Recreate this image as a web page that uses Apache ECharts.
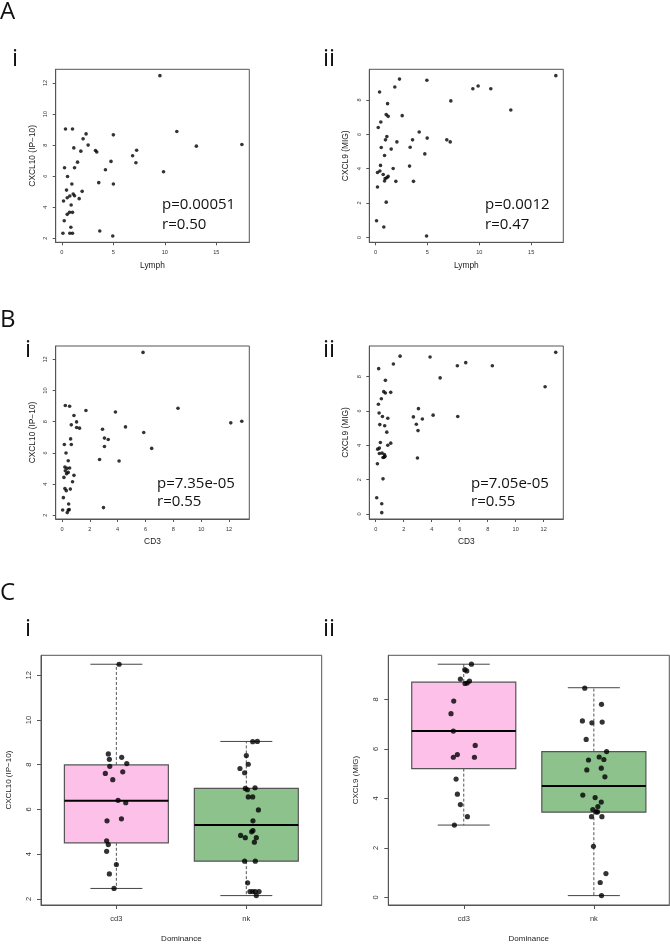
<!DOCTYPE html>
<html><head><meta charset="utf-8">
<script src="https://cdn.jsdelivr.net/npm/echarts@6/dist/echarts.min.js"></script>
<style>html,body{margin:0;padding:0;background:#fff}#c{width:670px;height:944px}</style>
</head><body><div id="c"></div>
<script>
// ---------- DATA ----------
// Panel A i : Lymph vs CXCL10 (IP-10)
const aLymph = [9.52,0.35,1.03,2.35,5.0,2.06,11.16,2.55,1.16,13.06,17.48,1.84,3.26,3.39,7.26,6.87,7.19,1.52,4.77,0.26,1.23,4.23,9.87,0.55,3.58,0.97,5.0,1.97,0.45,0.16,0.52,0.77,1.10,1.23,1.68,0.90,0.52,0.74,1.03,0.23,0.87,0.10,0.77,1.03,3.68,4.94];
const aCXCL10 = [12.47,9.04,9.04,8.72,8.66,8.40,8.87,8.0,7.82,7.93,8.04,7.61,7.65,7.55,7.67,7.31,6.86,6.90,6.95,6.54,6.54,6.41,6.28,5.98,5.58,5.49,5.49,5.02,5.10,4.40,4.61,4.72,4.85,4.74,4.55,4.14,3.54,3.67,3.67,3.13,2.71,2.32,2.32,2.32,2.47,2.15];
// Panel A ii : Lymph vs CXCL9 (MIG)
const aiiLymph = [17.38,2.31,4.95,1.86,0.39,9.38,9.89,11.11,7.26,1.16,13.04,1.03,1.22,2.57,0.51,0.26,4.21,1.09,0.96,3.57,4.98,6.87,7.20,2.06,0.55,1.51,3.34,0.87,4.75,0.48,3.28,1.70,0.19,0.42,0.74,0.93,0.87,1.09,1.22,1.96,3.66,0.19,1.03,0.10,0.80,4.92];
const aiiCXCL9 = [9.42,9.22,9.15,8.76,8.47,8.66,8.82,8.66,7.95,7.79,7.42,7.15,7.05,7.09,6.72,6.40,6.14,5.87,5.68,5.68,5.78,5.68,5.56,5.56,5.23,5.14,5.25,4.77,4.86,4.19,4.15,4.01,3.78,3.86,3.66,3.43,3.28,3.47,3.55,3.26,3.26,2.93,2.05,0.97,0.60,0.08];
// Panel B i : CD3 vs CXCL10 (IP-10)
const bCD3 = [5.82,0.24,0.55,1.72,3.84,8.33,0.86,1.05,0.67,1.05,1.26,2.91,4.56,5.87,12.12,12.91,0.62,3.05,3.32,0.17,0.67,3.05,6.44,0.29,0.45,2.70,4.10,0.21,0.36,0.55,0.24,0.45,0.33,0.86,0.14,0.76,0.21,0.31,0.60,0.10,0.48,0.05,0.45,0.52,0.38,2.98];
const bCXCL10 = [12.45,9.04,8.99,8.72,8.63,8.87,8.40,7.99,7.80,7.63,7.59,7.52,7.67,7.31,7.93,8.03,6.90,6.95,6.86,6.54,6.54,6.41,6.29,5.99,5.50,5.58,5.48,5.09,5.01,5.03,4.86,4.75,4.67,4.56,4.43,4.15,3.71,3.58,3.68,3.13,2.72,2.34,2.34,2.36,2.17,2.49];
// Panel B ii : CD3 vs CXCL9 (MIG)
const biiCD3 = [12.86,1.74,3.88,1.26,0.21,5.83,6.43,8.33,4.60,0.69,12.10,0.57,0.69,1.07,0.40,0.19,3.05,0.24,0.48,2.69,4.10,5.86,3.33,0.86,0.29,0.64,2.90,0.79,3.02,0.33,1.07,0.86,0.14,0.26,0.45,0.62,0.52,0.26,0.67,0.60,2.98,0.12,0.52,0.07,0.43,0.43];
const biiCXCL9 = [9.42,9.20,9.15,8.74,8.47,8.64,8.82,8.64,7.93,7.79,7.42,7.13,7.05,7.09,6.72,6.40,6.14,5.89,5.68,5.66,5.76,5.68,5.54,5.58,5.21,5.14,5.23,4.77,4.86,4.17,4.13,4.01,3.78,3.84,3.55,3.47,3.29,3.53,3.37,3.31,3.26,2.93,2.05,0.95,0.60,0.08];

// Panel C : Dominance box plots  [min, Q1, median, Q3, max]
const dominance = ['cd3','nk'];
const cxcl10Box = [[2.47,4.51,6.39,7.99,12.49],[2.15,3.69,5.30,6.94,9.04]];
const cxcl9Box  = [[2.92,5.20,6.72,8.70,9.42],[0.07,3.44,4.50,5.89,8.47]];
// jittered points: position on category scale (1 = cd3, 2 = nk) and value
const c10Pos = [1.021,0.938,0.946,1.041,1.080,0.949,0.915,1.049,0.972,1.013,1.072,0.928,1.039,0.925,0.938,0.925,1.000,0.946,0.982,
                2.049,2.085,2.000,2.015,1.951,1.987,2.067,1.992,2.008,2.015,2.049,2.093,2.051,2.051,2.041,1.956,1.992,2.077,2.062,1.987,2.069,2.010,2.028,2.049,2.069,2.098,2.077];
const c10Val = [12.49,8.48,8.24,8.33,8.05,7.93,7.61,7.68,7.33,6.41,6.30,5.49,5.58,4.60,4.43,4.13,3.54,3.12,2.47,
                9.03,9.04,8.41,8.02,7.83,7.64,6.97,6.94,6.88,6.56,6.56,5.98,5.49,5.06,5.00,4.84,4.74,4.74,4.54,3.69,3.69,2.72,2.33,2.33,2.33,2.33,2.15];
const c9Pos = [1.059,1.008,1.023,0.974,1.010,1.026,1.044,0.923,0.902,0.920,0.951,0.920,1.082,1.088,0.941,0.951,0.974,1.028,0.928,
               1.930,2.059,1.912,1.985,2.064,1.941,2.098,1.959,2.041,2.077,1.946,2.057,2.085,1.915,2.010,2.057,1.992,2.031,2.018,2.028,1.982,2.062,1.997,2.093,2.049,2.059];
const c9Val = [9.42,9.20,9.15,8.82,8.64,8.66,8.74,7.93,7.42,6.72,5.77,5.66,5.66,6.14,4.78,4.17,3.75,3.26,2.92,
               8.45,7.80,7.13,7.05,7.08,6.38,5.89,5.55,5.67,5.57,5.15,5.22,4.87,4.13,4.03,3.85,3.55,3.67,3.45,3.45,3.26,3.26,2.06,0.96,0.60,0.07];

// tick values
const lymphTicks = [0,5,10,15];
const cd3Ticks = [0,2,4,6,8,10,12];
const cxcl10Ticks = [2,4,6,8,10,12];
const cxcl9Ticks = [0,2,4,6,8];
const catTicks = [1,2];

// ---------- CHART ----------
const FONT = 'Liberation Sans, Arial, sans-serif';
const AX = '#555';
const zip = (a,b) => a.map((v,i)=>[v,b[i]]);

function axis(dim, gi, min, max, ticks, name, o) {
  const isY = dim === 'y';
  return {
    type: 'value', gridIndex: gi, min: min, max: max, scale: false,
    name: name, nameLocation: 'middle', nameGap: o.nameGap,
    nameTextStyle: {fontFamily: FONT, fontSize: o.nameSize, color: '#222'},
    splitLine: {show: false},
    axisLine: {show: true, onZero: false, lineStyle: {color: AX, width: 1}},
    axisTick: {show: true, length: o.tickLen, lineStyle: {color: AX, width: 1}, customValues: ticks},
    axisLabel: {show: true, fontFamily: FONT, fontSize: o.labSize, color: '#333', margin: o.margin,
                rotate: isY ? 90 : 0, customValues: ticks,
                formatter: o.fmt || (v => String(v))}
  };
}

const sOpt = {nameGap: 19, nameSize: 8.4, tickLen: 3, labSize: 5.6};
const sx = Object.assign({}, sOpt, {margin: 7});
const sy = Object.assign({}, sOpt, {margin: 7, nameGap: 19.5});
const cx = {nameGap: 30, nameSize: 8, tickLen: 4, labSize: 7.5, margin: 10, fmt: v => dominance[v-1]};
const cy = {nameGap: 28.5, nameSize: 8, tickLen: 4, labSize: 7.5, margin: 8};

const grids = [
  {left: 55.7, top: 69.3, width: 193.6, height: 173},
  {left: 369.3, top: 69.3, width: 194, height: 173},
  {left: 55.7, top: 346, width: 193.6, height: 173},
  {left: 369.3, top: 346, width: 194, height: 173},
  {left: 41, top: 655.3, width: 280.7, height: 251.4},
  {left: 388.3, top: 655.3, width: 281, height: 251.4}
].map(g => Object.assign({show: true, borderColor: AX, borderWidth: 1, backgroundColor: 'transparent', containLabel: false}, g));

const xAxes = [
  axis('x', 0, -0.6, 18.2, lymphTicks, 'Lymph', sx),
  axis('x', 1, -0.6, 18.1, lymphTicks, 'Lymph', sx),
  axis('x', 2, -0.45, 13.45, cd3Ticks, 'CD3', sx),
  axis('x', 3, -0.46, 13.4, cd3Ticks, 'CD3', sx),
  axis('x', 4, 0.42, 2.58, catTicks, 'Dominance', cx),
  axis('x', 5, 0.42, 2.58, catTicks, 'Dominance', cx)
];
const yAxes = [
  axis('y', 0, 1.74, 12.88, cxcl10Ticks, 'CXCL10 (IP\u221210)', sy),
  axis('y', 1, -0.29, 9.79, cxcl9Ticks, 'CXCL9 (MIG)', sy),
  axis('y', 2, 1.76, 12.86, cxcl10Ticks, 'CXCL10 (IP\u221210)', sy),
  axis('y', 3, -0.29, 9.79, cxcl9Ticks, 'CXCL9 (MIG)', sy),
  axis('y', 4, 1.73, 12.89, cxcl10Ticks, 'CXCL10 (IP\u221210)', cy),
  axis('y', 5, -0.31, 9.78, cxcl9Ticks, 'CXCL9 (MIG)', cy)
];

function scatter(i, xs, ys, size) {
  return {type: 'scatter', xAxisIndex: i, yAxisIndex: i, data: zip(xs, ys),
          symbol: 'circle', symbolSize: size, itemStyle: {color: '#000'}, silent: true, z: 5};
}

const boxFill = ['#FDC0E9', '#8EC28D'];
function renderBox(params, api) {
  const x = api.value(0), lo = api.value(1), q1 = api.value(2), md = api.value(3), q3 = api.value(4), hi = api.value(5);
  const hb = 0.4, hc = 0.2;
  const tl = api.coord([x - hb, q3]), br = api.coord([x + hb, q1]);
  const c = (a, b) => api.coord([a, b]);
  const dash = {stroke: '#555', lineWidth: 1, lineDash: [3, 2]};
  const solid = {stroke: '#444', lineWidth: 1};
  return {type: 'group', children: [
    {type: 'line', shape: {x1: c(x,q3)[0], y1: c(x,q3)[1], x2: c(x,hi)[0], y2: c(x,hi)[1]}, style: dash},
    {type: 'line', shape: {x1: c(x,q1)[0], y1: c(x,q1)[1], x2: c(x,lo)[0], y2: c(x,lo)[1]}, style: dash},
    {type: 'line', shape: {x1: c(x-hc,hi)[0], y1: c(x-hc,hi)[1], x2: c(x+hc,hi)[0], y2: c(x+hc,hi)[1]}, style: solid},
    {type: 'line', shape: {x1: c(x-hc,lo)[0], y1: c(x-hc,lo)[1], x2: c(x+hc,lo)[0], y2: c(x+hc,lo)[1]}, style: solid},
    {type: 'rect', shape: {x: tl[0], y: tl[1], width: br[0]-tl[0], height: br[1]-tl[1]},
     style: {fill: boxFill[params.dataIndex], stroke: '#555', lineWidth: 1.2}},
    {type: 'line', shape: {x1: c(x-hb,md)[0], y1: c(x-hb,md)[1], x2: c(x+hb,md)[0], y2: c(x+hb,md)[1]},
     style: {stroke: '#000', lineWidth: 2}}
  ]};
}
function boxSeries(i, boxes) {
  return {type: 'custom', xAxisIndex: i, yAxisIndex: i, renderItem: renderBox, silent: true, z: 2,
          encode: {x: 0, y: [1,2,3,4,5]},
          data: boxes.map((b, k) => [k + 1].concat(b))};
}

function txt(x, y, s, size, extra) {
  return Object.assign({type: 'text', x: x, y: y, silent: true,
    style: {text: s, fontFamily: 'Open Sans, sans-serif', fontSize: size, fill: '#111', verticalAlign: 'middle', align: 'left'}}, extra || {});
}
const annSize = 15;
const graphics = [
  txt(0, 12, 'A', 24), txt(12, 59, 'i', 24), txt(323, 59, 'ii', 24),
  txt(0, 320, 'B', 24), txt(25, 350, 'i', 24), txt(323, 350, 'ii', 24),
  txt(0, 593, 'C', 24), txt(25, 629, 'i', 24), txt(323, 629, 'ii', 24),
  txt(162, 205, 'p=0.00051', annSize), txt(162, 225, 'r=0.50', annSize),
  txt(485, 205, 'p=0.0012', annSize), txt(485, 225, 'r=0.47', annSize),
  txt(157, 484, 'p=7.35e-05', annSize), txt(157, 502, 'r=0.55', annSize),
  txt(471, 484, 'p=7.05e-05', annSize), txt(471, 502, 'r=0.55', annSize)
];

const option = {
  animation: false,
  backgroundColor: '#fff',
  grid: grids,
  xAxis: xAxes,
  yAxis: yAxes,
  graphic: graphics,
  series: [
    scatter(0, aLymph, aCXCL10, 3.6),
    scatter(1, aiiLymph, aiiCXCL9, 3.6),
    scatter(2, bCD3, bCXCL10, 3.6),
    scatter(3, biiCD3, biiCXCL9, 3.6),
    boxSeries(4, cxcl10Box),
    boxSeries(5, cxcl9Box),
    scatter(4, c10Pos, c10Val, 5.2),
    scatter(5, c9Pos, c9Val, 5.2)
  ]
};
const chart = echarts.init(document.getElementById('c'), null, {renderer: 'canvas'});
chart.setOption(option);
</script></body></html>
